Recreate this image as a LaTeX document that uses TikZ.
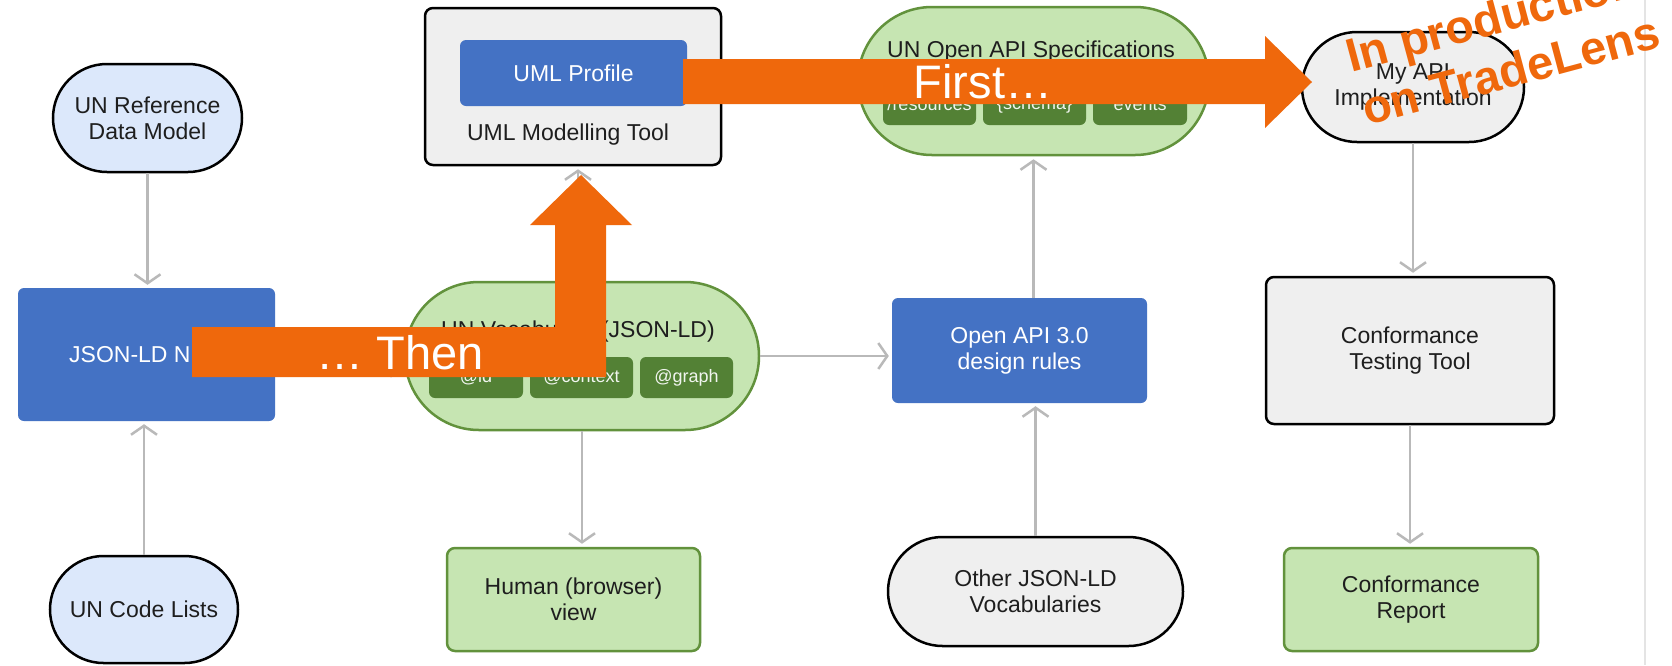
\documentclass[tikz,border=0pt]{standalone}
\usepackage{fontspec}
\setmainfont{Liberation Sans}
\usetikzlibrary{arrows.meta,shapes.misc}
\definecolor{umlblue}{RGB}{68,114,196}
\definecolor{panelgray}{RGB}{239,239,239}
\definecolor{paleblue}{RGB}{220,232,251}
\definecolor{leafgreen}{RGB}{198,229,178}
\definecolor{leafborder}{RGB}{98,146,60}
\definecolor{chipgreen}{RGB}{83,129,53}
\definecolor{flowgray}{RGB}{185,185,185}
\definecolor{edgegray}{RGB}{228,228,228}
\definecolor{calloutorange}{RGB}{239,104,12}
\definecolor{inkgray}{RGB}{30,30,30}

\begin{document}
\begin{tikzpicture}[x=1pt, y=-1pt,
		every node/.style={font=\fontsize{23}{26}\selectfont, text=inkgray, align=center, inner sep=0pt},
		bluebox/.style={fill=umlblue, text=white, rounded corners=6pt},
		graybox/.style={fill=panelgray, draw=black, line width=2.5pt, rounded corners=8pt},
		greenbox/.style={fill=leafgreen, draw=leafborder, line width=2.5pt, rounded corners=8pt},
		pill/.style={rounded rectangle, draw=black, line width=2.5pt},
		greenpill/.style={rounded rectangle, fill=leafgreen, draw=leafborder, line width=2.5pt},
		chip/.style={fill=chipgreen, text=white!92!chipgreen, rounded corners=6pt, minimum height=41, font=\fontsize{18}{20}\selectfont},
		flow/.style={draw=flowgray, line width=2.5pt, shorten >=3pt, -{Straight Barb[length=9pt, width=26pt, line width=2.5pt]}},
		bigwhite/.style={font=\fontsize{47}{50}\selectfont, text=white},
		stamp/.style={font=\bfseries\fontsize{47}{50}\selectfont, text=calloutorange, anchor=base west, rotate=15}]
	\useasboundingbox (0,0) rectangle (1672,665);
	\clip (0,0) rectangle (1672,665);
	\fill[white] (0,0) rectangle (1672,665);
	\draw[edgegray, line width=1.5pt] (1645,0) -- (1645,665);

	% first column
	\node[pill, fill=paleblue, minimum width=189, minimum height=108] (refmodel) at (147.5,118) {UN Reference\\Data Model};
	\node[bluebox, minimum width=257, minimum height=133] (ndr) at (146.5,354.5) {JSON-LD NDR};
	\node[pill, fill=paleblue, minimum width=188, minimum height=107] (codelists) at (144,609.5) {UN Code Lists};

	% second column
	\node[graybox, minimum width=296, minimum height=157] (umltool) at (573,86.5) {};
	\node[bluebox, minimum width=227, minimum height=66] (umlprofile) at (573.5,73) {UML Profile};
	\node (umltitle) at (568,135) {UML Modelling Tool};
	\node[greenpill, minimum width=354, minimum height=148] (vocab) at (582,356) {};
	\node (vocabtitle) at (578,332) {UN Vocabulary (JSON-LD)};
	\node[chip, minimum width=94] (atid) at (476,377.5) {@id};
	\node[chip, minimum width=103] (atcontext) at (581.5,377.5) {@context};
	\node[chip, minimum width=93] (atgraph) at (686.5,377.5) {@graph};
	\node[greenbox, minimum width=253, minimum height=103] (humanview) at (573.5,599.5) {Human (browser)\\view};

	% third column
	\node[greenpill, minimum width=351, minimum height=148] (specs) at (1033.5,81) {};
	\node (specstitle) at (1031,52) {UN Open API Specifications};
	\node[chip, minimum width=93] (resources) at (929.5,104.5) {/resources};
	\node[chip, minimum width=103] (schema) at (1034.5,104.5) {\{schema\}};
	\node[chip, minimum width=94] (events) at (1140,104.5) {events};
	\node[bluebox, minimum width=255, minimum height=105] (openapi) at (1019.5,350.5) {Open API 3.0\\design rules};
	\node[pill, fill=panelgray, minimum width=295, minimum height=109] (otherjson) at (1035.5,591.5) {Other JSON-LD\\Vocabularies};

	% fourth column
	\node[pill, fill=panelgray, minimum width=222, minimum height=110] (myapi) at (1413,87) {My API\\Implementation};
	\node[graybox, minimum width=288, minimum height=147] (conftool) at (1410,350.5) {Conformance\\Testing Tool};
	\node[greenbox, minimum width=254, minimum height=103] (confreport) at (1411,599.5) {Conformance\\Report};

	% connectors
	\draw[flow] (refmodel.south) -- (refmodel.south |- ndr.north);
	\draw[flow] (codelists.north) -- (codelists.north |- ndr.south);
	\draw[flow] ([yshift=-8pt]ndr.east) -- ([yshift=-8pt]vocab.west);
	\draw[flow] ([xshift=-4pt]vocab.north) -- ([xshift=-4pt]vocab.north |- umltool.south);
	\draw[flow] (vocab.south) -- (vocab.south |- humanview.north);
	\draw[flow] (vocab.east) -- (vocab.east -| openapi.west);
	\draw[flow] (specs.south |- openapi.north) -- (specs.south);
	\draw[flow] (otherjson.north) -- (otherjson.north |- openapi.south);
	\draw[flow] (myapi.south) -- (myapi.south |- conftool.north);
	\draw[flow] (conftool.south) -- (conftool.south |- confreport.north);

	% orange callouts
	\fill[calloutorange] (683,59) -- (1265,59) -- (1265,36) -- (1312,82) -- (1265,128) -- (1265,104) -- (683,104) -- cycle;
	\node[bigwhite] (first) at (983,82) {First…};
	\fill[calloutorange] (192,327) -- (555,327) -- (555,225) -- (530,225) -- (581,175) -- (632,225) -- (606,225) -- (606,377) -- (192,377) -- cycle;
	\node[bigwhite] (then) at (400,353) {… Then};
	\node[stamp] (prodtop) at (1351,73) {In production};
	\node[stamp] (prodbottom) at (1367,126) {on TradeLens};
\end{tikzpicture}
\end{document}
